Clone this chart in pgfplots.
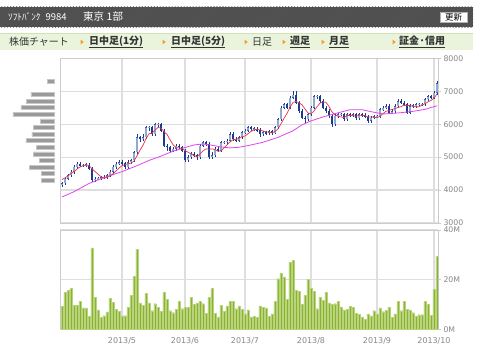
\documentclass[border=0pt]{standalone}
\usepackage{pgfplots}
\pgfplotsset{compat=1.18}
\usepackage{pgfplotstable}
\usepackage{fontspec}
\setmainfont{DejaVu Sans}
\newfontfamily\jp{Noto Sans CJK JP}
\usetikzlibrary{patterns}
\definecolor{hdr}{HTML}{4E4E4E}
\definecolor{hdrs}{HTML}{585858}
\definecolor{navbg}{HTML}{EAF4DC}
\definecolor{navline}{HTML}{CFE2B6}
\definecolor{gridc}{HTML}{DEDEDE}
\definecolor{framec}{HTML}{CCCCCC}
\definecolor{upc}{HTML}{8FA9D6}
\definecolor{upedge}{HTML}{3D5DAA}
\definecolor{dnc}{HTML}{1C3A8E}
\definecolor{volc}{HTML}{8AB332}
\definecolor{vole}{HTML}{BAD47E}
\definecolor{maF}{HTML}{E8344A}
\definecolor{maS}{HTML}{E045F0}
\definecolor{labc}{HTML}{888888}
\definecolor{histc}{HTML}{9A9A9A}
\definecolor{arrowc}{HTML}{F2A12A}
\definecolor{txt}{HTML}{333333}

\pgfplotstableread{
i o h l c
1 4150 4250 4100 4200
2 4200 4400 4150 4350
3 4350 4500 4300 4450
4 4450 4600 4400 4550
5 4550 4750 4500 4700
6 4700 4850 4650 4800
7 4800 4850 4700 4750
8 4750 4800 4700 4750
9 4750 4820 4700 4770
10 4770 4820 4600 4650
11 4650 4700 4250 4300
12 4300 4400 4250 4350
13 4350 4400 4300 4350
14 4350 4430 4300 4380
15 4380 4450 4330 4400
16 4400 4500 4350 4450
17 4450 4600 4400 4550
18 4550 4750 4500 4700
19 4700 4850 4650 4800
20 4800 4900 4750 4840
21 4840 4900 4760 4810
22 4810 4850 4650 4700
23 4700 4900 4650 4850
24 4850 4950 4800 4900
25 4900 5200 4850 5150
26 5150 5700 5100 5600
27 5600 5650 5450 5550
28 5550 5700 5500 5600
29 5600 5950 5550 5900
30 5900 5950 5800 5900
31 5900 5950 5650 5700
32 5700 6050 5650 6000
33 6000 6050 5900 6000
34 6000 6050 5750 5800
35 5800 5850 5300 5350
36 5350 5400 5200 5300
37 5300 5350 5150 5200
38 5200 5300 5150 5250
39 5250 5400 5200 5350
40 5350 5400 5250 5300
41 5300 5350 5150 5200
42 5200 5250 4850 4900
43 4900 5050 4850 5000
44 5000 5150 4950 5100
45 5100 5150 5000 5050
46 5050 5100 4900 5000
47 5000 5400 4950 5350
48 5350 5500 5300 5450
49 5450 5500 5350 5400
50 5400 5450 4950 5000
51 5000 5150 4950 5050
52 5050 5300 5000 5250
53 5250 5300 5150 5200
54 5200 5500 5150 5450
55 5450 5500 5400 5450
56 5450 5550 5400 5500
57 5500 5750 5450 5700
58 5700 5750 5500 5550
59 5550 5600 5450 5500
60 5500 5650 5450 5600
61 5600 5800 5550 5750
62 5750 5850 5700 5800
63 5800 5950 5750 5900
64 5900 5950 5800 5850
65 5850 5900 5800 5850
66 5850 5900 5770 5820
67 5820 5870 5600 5700
68 5700 5800 5650 5750
69 5750 5800 5680 5730
70 5730 5830 5680 5780
71 5780 5830 5680 5730
72 5730 5950 5700 5900
73 5900 6200 5850 6150
74 6150 6550 6100 6500
75 6500 6650 6450 6600
76 6600 6650 6450 6500
77 6500 6850 6450 6800
78 6800 7000 6750 6900
79 6900 7000 6600 6650
80 6650 6700 6350 6400
81 6400 6450 6150 6200
82 6200 6250 6050 6150
83 6150 6350 6100 6300
84 6300 6550 6250 6500
85 6500 6900 6450 6850
86 6850 6900 6750 6850
87 6850 6900 6650 6700
88 6700 6750 6450 6500
89 6500 6550 6350 6400
90 6400 6450 6200 6250
91 6250 6300 5900 6000
92 6000 6300 5950 6250
93 6250 6350 6200 6300
94 6300 6350 6250 6300
95 6300 6350 6100 6150
96 6150 6350 6100 6300
97 6300 6350 6220 6270
98 6270 6350 6220 6300
99 6300 6350 6130 6180
100 6180 6350 6130 6300
101 6300 6350 6230 6280
102 6280 6330 6180 6230
103 6230 6280 6050 6100
104 6100 6250 6050 6200
105 6200 6280 6150 6230
106 6230 6280 6180 6230
107 6230 6500 6200 6450
108 6450 6550 6400 6500
109 6500 6600 6450 6550
110 6550 6600 6300 6350
111 6350 6450 6300 6400
112 6400 6600 6350 6550
113 6550 6750 6500 6700
114 6700 6750 6600 6650
115 6650 6700 6550 6600
116 6600 6650 6300 6350
117 6350 6600 6300 6550
118 6550 6600 6500 6550
119 6550 6650 6500 6600
120 6600 6650 6550 6600
121 6600 6650 6550 6600
122 6600 6800 6550 6750
123 6750 6900 6700 6850
124 6850 6900 6750 6800
125 6800 7000 6750 6950
126 6950 7300 6900 7250
}\candles

\pgfplotstableread{
i v
1 9.3
2 14.8
3 15.7
4 16.4
5 9.7
6 9.7
7 11.3
8 8.6
9 8.6
10 5.1
11 32.8
12 12.8
13 7.8
14 4.8
15 5.5
16 7.0
17 12.5
18 10.8
19 8.1
20 7.3
21 5.4
22 5.5
23 8.9
24 13.6
25 21.4
26 32.3
27 10.6
28 9.7
29 14.5
30 10.6
31 7.5
32 10.3
33 8.9
34 7.3
35 14.9
36 12.1
37 7.5
38 6.7
39 8.1
40 11.3
41 8.3
42 8.9
43 8.9
44 12.8
45 10.1
46 10.6
47 11.2
48 10.3
49 6.5
50 12.8
51 16.4
52 6.5
53 5.0
54 9.7
55 7.3
56 9.4
57 11.3
58 11.2
59 8.3
60 9.4
61 8.1
62 6.2
63 7.8
64 5.0
65 5.2
66 4.7
67 9.4
68 8.9
69 8.6
70 5.2
71 6.2
72 11.2
73 20.4
74 22.7
75 21.1
76 12.0
77 27.1
78 27.7
79 15.7
80 15.3
81 10.1
82 13.7
83 20.2
84 16.4
85 15.3
86 8.3
87 13.0
88 11.7
89 15.0
90 10.6
91 10.1
92 10.3
93 11.2
94 9.0
95 7.8
96 8.1
97 9.3
98 8.9
99 6.5
100 6.0
101 5.0
102 4.0
103 6.2
104 5.4
105 7.5
106 6.2
107 8.6
108 7.1
109 7.7
110 8.9
111 4.8
112 6.2
113 11.2
114 7.5
115 11.2
116 8.1
117 7.8
118 6.7
119 5.4
120 5.9
121 5.9
122 11.2
123 10.1
124 5.6
125 16.1
126 29.4
}\vol

\pgfplotstableread{
i m
1 4320
2 4370
3 4430
4 4500
5 4560
6 4640
7 4700
8 4740
9 4760
10 4744
11 4644
12 4564
13 4484
14 4406
15 4356
16 4386
17 4426
18 4496
19 4580
20 4668
21 4740
22 4770
23 4800
24 4820
25 4882
26 5040
27 5210
28 5360
29 5560
30 5710
31 5730
32 5820
33 5900
34 5880
35 5770
36 5690
37 5530
38 5380
39 5290
40 5280
41 5260
42 5200
43 5150
44 5100
45 5050
46 5010
47 5100
48 5190
49 5250
50 5240
51 5250
52 5230
53 5180
54 5190
55 5280
56 5370
57 5460
58 5530
59 5540
60 5570
61 5620
62 5640
63 5710
64 5780
65 5830
66 5844
67 5824
68 5794
69 5770
70 5756
71 5738
72 5778
73 5858
74 6012
75 6176
76 6330
77 6510
78 6660
79 6690
80 6650
81 6590
82 6460
83 6340
84 6310
85 6400
86 6530
87 6640
88 6680
89 6660
90 6540
91 6370
92 6280
93 6240
94 6220
95 6200
96 6260
97 6264
98 6264
99 6240
100 6270
101 6266
102 6258
103 6218
104 6222
105 6208
106 6198
107 6242
108 6322
109 6392
110 6416
111 6450
112 6470
113 6510
114 6530
115 6580
116 6570
117 6570
118 6540
119 6530
120 6530
121 6580
122 6620
123 6680
124 6720
125 6790
126 6920
}\maf

\pgfplotstableread{
i m
1 3790
5 3950
10 4200
15 4380
21 4560
26 4740
30 4900
34 5030
38 5180
42 5290
45 5370
48 5400
51 5360
54 5310
57 5280
60 5300
63 5350
68 5450
73 5600
78 5800
81 5980
84 6100
88 6220
92 6320
97 6440
101 6440
104 6380
108 6310
113 6340
118 6390
122 6450
126 6560
}\mas

\begin{document}
\begin{tikzpicture}[x=1bp,y=1bp]
\path[use as bounding box] (0,0) rectangle (480,355);
\fill[white] (0,0) rectangle (480,355);
% header bar
\fill[hdr] (0,328) rectangle (473,348);
\fill[pattern=north east lines, pattern color=hdrs] (0,328) rectangle (473,348);
\node[anchor=west, inner sep=0, text=white, font=\jp\fontsize{9.3}{10}\selectfont] at (8,338) {ｿﾌﾄﾊﾞﾝｸ};
\node[anchor=west, inner sep=0, text=white, font=\jp\fontsize{9.5}{10}\selectfont] at (45.5,338) {9984};
\node[anchor=west, inner sep=0, text=white, font=\jp\fontsize{10.5}{11}\selectfont] at (83,338) {東京};
\node[anchor=west, inner sep=0, text=white, font=\jp\fontsize{10.5}{11}\selectfont] at (106.5,338) {1部};
\fill[white, draw=gray!60] (440,332.5) rectangle (467,343);
\node[inner sep=0, text=black, font=\jp\fontsize{8.5}{9}\selectfont] at (453.5,337.8) {更新};
% nav bar
\fill[navbg] (0,305) rectangle (473,322);
\fill[navline] (0,321) rectangle (473,322.5);
\node[anchor=west, inner sep=0, text=txt, font=\jp\fontsize{10}{10}\selectfont] at (9,313) {株価チャート};
\foreach \ax in {82,164,246,284,323,394}{
  \fill[arrowc] (\ax-1.5,310.5) -- (\ax+1.8,313) -- (\ax-1.5,315.5) -- cycle;
}
\node[anchor=west, inner sep=0, text=txt, font=\jp\bfseries\fontsize{10}{10}\selectfont] at (89,313) {\underline{日中足(1分)}};
\node[anchor=west, inner sep=0, text=txt, font=\jp\bfseries\fontsize{10}{10}\selectfont] at (171,313) {\underline{日中足(5分)}};
\node[anchor=west, inner sep=0, text=txt, font=\jp\fontsize{10}{10}\selectfont] at (252,313) {日足};
\node[anchor=west, inner sep=0, text=txt, font=\jp\bfseries\fontsize{10}{10}\selectfont] at (290,313) {\underline{週足}};
\node[anchor=west, inner sep=0, text=txt, font=\jp\bfseries\fontsize{10}{10}\selectfont] at (329,313) {\underline{月足}};
\node[anchor=west, inner sep=0, text=txt, font=\jp\bfseries\fontsize{10}{10}\selectfont] at (399,313) {\underline{証金·信用}};

% volume-at-price histogram
\begin{axis}[at={(0bp,132bp)}, anchor=south west, width=54.3bp, height=164.7bp,
  scale only axis, hide axis, x dir=reverse, xmin=0, xmax=54.3, ymin=3000, ymax=8000, clip=false]
\addplot[xbar, bar width=4bp, fill=histc, draw=histc!55!white, line width=0.5bp] coordinates {
(6.6,7300) (23.3,6900) (27.6,6700) (33.3,6500) (41.3,6300) (14,6100) (20.6,5900) (22.3,5700)
(28.3,5500) (18,5300) (20.6,5100) (14.6,4900) (25,4700) (13.3,4500) (13.3,4300)};
\end{axis}

% price chart
\begin{axis}[at={(60bp,132bp)}, anchor=south west, width=378bp, height=164.7bp, scale only axis,
  xmin=0.333, xmax=126.333, ymin=3000, ymax=8000,
  axis line style={framec, line width=1bp},
  grid=major, major grid style={gridc, line width=1.2bp},
  xtick={21,42,62,84,106,125}, xticklabels={}, xtick style={draw=none},
  ytick={3000,4000,5000,6000,7000,8000}, ytick pos=right, yticklabel pos=right,
  tick align=outside, major tick length=3bp, ytick style={draw=framec, line width=0.8bp},
  yticklabel style={font=\fontsize{7.8}{8}\selectfont, text=labc, xshift=-1bp},
  /pgf/number format/assume math mode=true, /pgf/number format/1000 sep={}]
% wicks
\addplot[draw=none, mark=none, forget plot, error bars/.cd, y dir=both, y explicit, error mark=none,
  error bar style={draw=dnc, line width=0.7bp, solid}]
  table[x=i, y expr={(\thisrow{h}+\thisrow{l})/2}, y error expr={(\thisrow{h}-\thisrow{l})/2}] {\candles};
% up bodies
\addplot[draw=none, mark=none, forget plot, restrict expr to domain={\thisrow{c}-\thisrow{o}}{0:100000},
  error bars/.cd, y dir=both, y explicit, error mark=none,
  error bar style={draw=upedge, line width=2.4bp, solid}]
  table[x=i, y expr={(\thisrow{o}+\thisrow{c})/2}, y error expr={max(abs(\thisrow{c}-\thisrow{o})/2,20)}] {\candles};
\addplot[draw=none, mark=none, forget plot, restrict expr to domain={\thisrow{c}-\thisrow{o}}{0:100000},
  error bars/.cd, y dir=both, y explicit, error mark=none,
  error bar style={draw=upc, line width=1.1bp, solid}]
  table[x=i, y expr={(\thisrow{o}+\thisrow{c})/2}, y error expr={max(abs(\thisrow{c}-\thisrow{o})/2-15,8)}] {\candles};
% down bodies
\addplot[draw=none, mark=none, forget plot, restrict expr to domain={\thisrow{c}-\thisrow{o}}{-100000:-1},
  error bars/.cd, y dir=both, y explicit, error mark=none,
  error bar style={draw=dnc, line width=2.4bp, solid}]
  table[x=i, y expr={(\thisrow{o}+\thisrow{c})/2}, y error expr={max(abs(\thisrow{c}-\thisrow{o})/2,20)}] {\candles};
% moving averages
\addplot[maS, line width=0.8bp, mark=none] table[x=i, y=m] {\mas};
\addplot[maF, line width=0.7bp, mark=none] table[x=i, y=m] {\maf};
\end{axis}

% volume chart
\begin{axis}[at={(60bp,25.7bp)}, anchor=south west, width=378bp, height=99.3bp, scale only axis,
  xmin=0.333, xmax=126.333, ymin=0, ymax=40,
  axis line style={framec, line width=1bp},
  grid=major, major grid style={gridc, line width=1.2bp},
  xtick={21,42,62,84,106,125}, xticklabels={2013/5,2013/6,2013/7,2013/8,2013/9,2013/10},
  xtick style={draw=none},
  xticklabel style={font=\fontsize{8}{8}\selectfont, text=labc, yshift=-2bp},
  ytick={0,20,40}, yticklabels={0M,20M,40M}, ytick pos=right, yticklabel pos=right,
  tick align=outside, major tick length=3bp, ytick style={draw=framec, line width=0.8bp},
  yticklabel style={font=\fontsize{7.8}{8}\selectfont, text=labc, xshift=-1bp}]
\addplot[ybar, bar width=2.1bp, fill=volc, draw=vole, line width=0.3bp] table[x=i, y=v] {\vol};
\end{axis}
\end{tikzpicture}
\end{document}
